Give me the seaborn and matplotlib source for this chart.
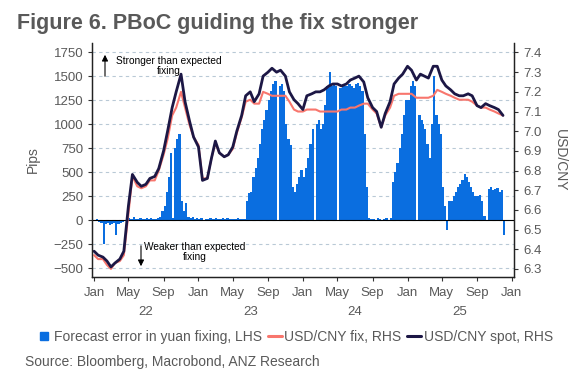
import pandas as pd
import numpy as np
import matplotlib.pyplot as plt
import matplotlib.dates as mdates
import seaborn as sns
from matplotlib.lines import Line2D

# -------------------------------
# DATA
# -------------------------------
# forecast error (pips), four readings per month (1st, 8th, 16th, 23rd)
err_2022 = [-10, 10, -20, -30,   -250, -40, -30, -50,   -40, -30, -150, -40,   -30, -20, -10, -20,
            20, 10, 30, 10,      10, 20, 10, 15,        20, 10, 25, 15,        10, 20, 40, 100,
            150, 300, 450, 700,  20, 750, 850, 900,     200, 100, 180, 30,     20, 30, 10, 20]
err_2023 = [10, 20, -10, 15,     10, 20, 15, 10,        20, 10, 15, 20,        10, 20, 15, 10,
            15, 10, 20, 10,      10, 15, 200, 280,      300, 450, 550, 650,    800, 950, 1050, 1150,
            1250, 1350, 1420, 1450, 0, 1400, 1420, 1350, 1000, 850, 780, 350,  300, 380, 450, 520]
err_2024 = [450, 550, 650, 800,  950, 0, 1000, 1050,    950, 1000, 1200, 1400, 1550, 1400, 1420, 1400,
            0, 1380, 1400, 1400, 1400, 1420, 1400, 1380, 1420, 1430, 1400, 1350, 900, 350, 20, 10,
            10, -10, 20, 10,     0, 10, 20, -10,        20, 400, 500, 600,     750, 900, 1100, 1250]
err_2025 = [1250, 1400, 1450, 1400, 0, 1100, 1050, 1000, 950, 800, 650, 1000,  1500, 1100, 1000, 900,
            350, 150, -100, 200, 200, 250, 300, 350,    380, 420, 480, 450,    400, 350, 300, 250,
            250, 260, 200, 50,   0, 330, 350, 320,      330, 340, 300, 320,    -150]
err_last_day = '2025-12-08'

# USD/CNY fix and spot, two readings per month (1st, 16th)
fix_2022 = [6.37, 6.35, 6.35, 6.32, 6.30, 6.33, 6.34, 6.37, 6.58, 6.77, 6.72, 6.71,
            6.72, 6.75, 6.75, 6.80, 6.88, 6.96, 7.08, 7.12, 7.20, 7.12, 7.03, 6.97]
fix_2023 = [6.93, 6.76, 6.76, 6.86, 6.94, 6.89, 6.87, 6.88, 6.91, 6.99, 7.07, 7.15,
            7.16, 7.14, 7.14, 7.20, 7.19, 7.18, 7.18, 7.18, 7.18, 7.15, 7.11, 7.10]
fix_2024 = [7.10, 7.11, 7.11, 7.11, 7.10, 7.10, 7.10, 7.10, 7.10, 7.11, 7.11, 7.12,
            7.12, 7.13, 7.14, 7.14, 7.11, 7.09, 7.02, 7.08, 7.12, 7.18, 7.19, 7.19]
fix_2025 = [7.19, 7.19, 7.17, 7.17, 7.17, 7.17, 7.18, 7.21, 7.20, 7.19, 7.18, 7.17,
            7.16, 7.16, 7.16, 7.15, 7.13, 7.12, 7.12, 7.11, 7.10, 7.09, 7.08]

spot_2022 = [6.39, 6.37, 6.36, 6.34, 6.31, 6.33, 6.35, 6.39, 6.62, 6.78, 6.74, 6.72,
             6.73, 6.76, 6.77, 6.81, 6.90, 7.00, 7.12, 7.20, 7.29, 7.15, 7.05, 6.97]
spot_2023 = [6.92, 6.75, 6.76, 6.86, 6.95, 6.89, 6.87, 6.88, 6.92, 7.00, 7.08, 7.18,
             7.20, 7.15, 7.19, 7.28, 7.30, 7.32, 7.30, 7.31, 7.28, 7.20, 7.16, 7.14]
spot_2024 = [7.11, 7.18, 7.19, 7.20, 7.20, 7.21, 7.23, 7.24, 7.24, 7.23, 7.24, 7.26,
             7.27, 7.28, 7.25, 7.17, 7.12, 7.10, 7.02, 7.09, 7.15, 7.24, 7.27, 7.29]
spot_2025 = [7.33, 7.31, 7.26, 7.29, 7.28, 7.27, 7.33, 7.33, 7.26, 7.23, 7.21, 7.19,
             7.18, 7.18, 7.19, 7.18, 7.13, 7.12, 7.14, 7.13, 7.12, 7.11, 7.08]

errors = err_2022 + err_2023 + err_2024 + err_2025
fix = fix_2022 + fix_2023 + fix_2024 + fix_2025
spot = spot_2022 + spot_2023 + spot_2024 + spot_2025

err_dates = [pd.Timestamp(y, m, d) for y in range(2022, 2026) for m in range(1, 13)
             for d in (1, 8, 16, 23)][:len(errors)]
err_edges = mdates.date2num(err_dates + [pd.Timestamp(err_last_day)])
line_dates = pd.date_range('2022-01-01', periods=len(fix), freq='SMS')

lines = pd.DataFrame({'date': line_dates, 'fix': fix, 'spot': spot})

month_labels = ['Jan', 'May', 'Sep']
year_labels = ['22', '23', '24', '25']

# -------------------------------
# STYLE
# -------------------------------
sns.set_style('ticks')
plt.rcParams['font.family'] = ['Liberation Sans', 'DejaVu Sans']

BLUE = '#0A6EE0'
SALMON = '#F8766D'
NAVY = '#1C1745'
GREY = '#595959'

fig = plt.figure(figsize=(5.81, 3.81), dpi=100)
ax = fig.add_axes([0.159, 0.273, 0.726, 0.614])
ax2 = ax.twinx()

# lines (RHS) first so the shared date axis is set up
sns.lineplot(data=lines, x='date', y='fix', ax=ax2, color=SALMON, lw=1.5)
sns.lineplot(data=lines, x='date', y='spot', ax=ax2, color=NAVY, lw=2.0)

# bars (LHS) drawn as one filled step shape, so neighbouring bars have no hairline gaps
ax.xaxis_date()
ax.stairs(errors, err_edges, baseline=0, fill=True, color=BLUE, lw=0)
ax.axhline(0, color='black', lw=0.8, zorder=1)

# -------------------------------
# AXES
# -------------------------------
ax.set_xlim(pd.Timestamp('2021-12-26'), pd.Timestamp('2026-01-09'))
ax.set_ylim(-590, 1847)
ax2.set_ylim(6.259, 7.448)

ax.set_yticks(np.arange(-500, 1751, 250))
ax2.set_yticks(np.arange(6.3, 7.41, 0.1))
ax2.set_yticklabels([f'{v:.1f}' for v in np.arange(6.3, 7.41, 0.1)])

ax.yaxis.grid(True, color='#B9C9D6', ls=(0, (3, 3)), lw=0.8)
ax.set_axisbelow(True)

xticks = [pd.Timestamp(f'{y}-{m:02d}-01') for y in range(2022, 2026) for m in (1, 5, 9)]
xticks.append(pd.Timestamp('2026-01-01'))
ax.set_xticks(xticks)
ax.set_xticklabels(month_labels * 4 + ['Jan'])
for i, yl in enumerate(year_labels):
    ax.text(pd.Timestamp(f'{2022 + i}-07-01'), -0.15, yl, transform=ax.get_xaxis_transform(),
            ha='center', va='center', fontsize=9.5, color=GREY)

for a in (ax, ax2):
    a.tick_params(axis='both', labelsize=9.5, labelcolor=GREY, length=3, width=0.8, color='#333333')
    a.spines['top'].set_visible(False)
    for s in ('left', 'right', 'bottom'):
        a.spines[s].set_color('#222222')
        a.spines[s].set_linewidth(0.9)
ax.tick_params(axis='x', pad=4)

ax.set_xlabel('')
ax2.set_xlabel('')
ax.set_ylabel('Pips', fontsize=10, color=GREY, labelpad=10)
ax2.set_ylabel('USD/CNY', fontsize=10, color=GREY, rotation=-90, labelpad=18)

# -------------------------------
# ANNOTATIONS
# -------------------------------
W, H = 581, 381
ax.annotate('', xy=(105 / W, 1 - 52 / H), xytext=(105 / W, 1 - 79 / H), xycoords='figure fraction',
            arrowprops=dict(arrowstyle='-|>', color='black', lw=0.8, mutation_scale=9))
fig.text(169 / W, 1 - 66 / H, 'Stronger than expected\nfixing', ha='center', va='center',
         fontsize=7.3, color='black', linespacing=1.1)
ax.annotate('', xy=(141 / W, 1 - 269 / H), xytext=(141 / W, 1 - 243 / H), xycoords='figure fraction',
            arrowprops=dict(arrowstyle='-|>', color='black', lw=0.8, mutation_scale=9))
fig.text(195 / W, 1 - 252 / H, 'Weaker than expected\nfixing', ha='center', va='center',
         fontsize=7.3, color='black', linespacing=1.1)

# -------------------------------
# TITLE, LEGEND, SOURCE
# -------------------------------
fig.text(17 / W, 1 - 29 / H, 'Figure 6. PBoC guiding the fix stronger', ha='left', va='baseline',
         fontsize=15.5, fontweight='bold', color=GREY)

handles = [Line2D([], [], marker='s', ls='none', color=BLUE, markersize=6),
           Line2D([], [], color=SALMON, lw=2.2),
           Line2D([], [], color=NAVY, lw=2.2)]
labels = ['Forecast error in yuan fixing, LHS', 'USD/CNY fix, RHS', 'USD/CNY spot, RHS']
fig.legend(handles, labels, loc='center', bbox_to_anchor=(0.508, 1 - 337 / H), ncol=3,
           frameon=False, fontsize=10, handlelength=1.0, handletextpad=0.2, columnspacing=0.4,
           labelcolor=GREY)

fig.text(25 / W, 1 - 362 / H, 'Source: Bloomberg, Macrobond, ANZ Research', ha='left', va='center',
         fontsize=10, color=GREY)

fig.savefig('out.png', dpi=100)
